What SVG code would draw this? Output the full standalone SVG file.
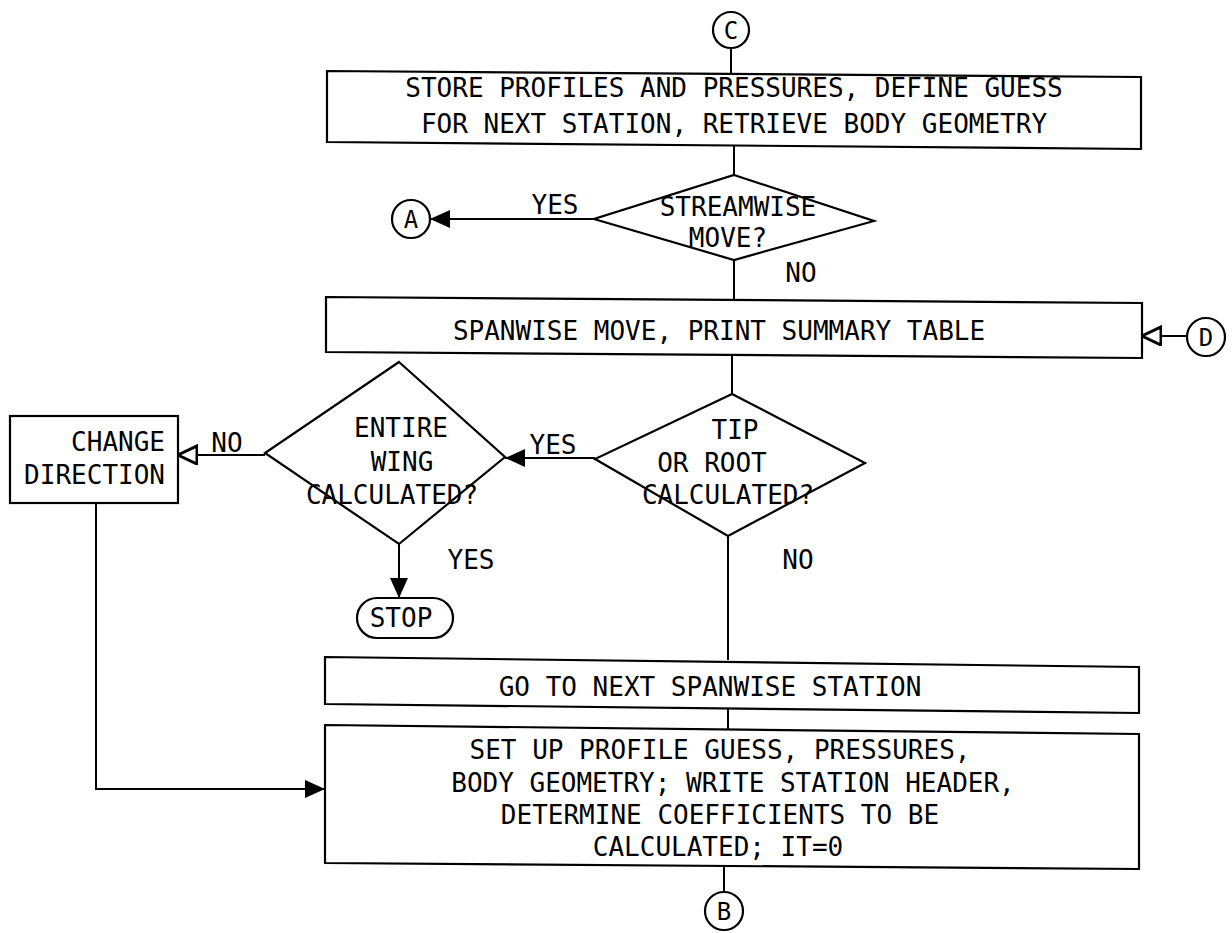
<svg xmlns="http://www.w3.org/2000/svg" width="1232" height="933" viewBox="0 0 1232 933">
<style>
.sh{fill:#fff;stroke:#000;stroke-width:2.2}
.ln{fill:none;stroke:#000;stroke-width:2}
.t{font-family:"DejaVu Sans Mono","Liberation Mono",monospace;font-size:26px;fill:#000;text-anchor:middle}
.e{text-anchor:end}
</style>
<defs>
<marker id="solid" markerUnits="userSpaceOnUse" markerWidth="22" markerHeight="20" refX="20" refY="9" orient="auto"><path d="M0,0 L20,9 L0,18 z" fill="#000"/></marker>
<marker id="hollow" markerUnits="userSpaceOnUse" markerWidth="24" markerHeight="22" refX="20" refY="10" orient="auto"><path d="M1,1 L20,10 L1,19 z" fill="#fff" stroke="#000" stroke-width="3"/></marker>
</defs>
<rect width="1232" height="933" fill="#fff"/>
<g id="connectors">
<path class="ln" d="M731,48 L731,73"/>
<path class="ln" d="M734,146 L734,175"/>
<path class="ln" d="M594,219 L430,219" marker-end="url(#solid)"/>
<path class="ln" d="M734,260 L734,300"/>
<path class="ln" d="M1187,336 L1142,336" marker-end="url(#hollow)"/>
<path class="ln" d="M732,355 L732,394"/>
<path class="ln" d="M595,458 L505,458" marker-end="url(#solid)"/>
<path class="ln" d="M265,455 L178,455" marker-end="url(#hollow)"/>
<path class="ln" d="M399,544 L399,598" marker-end="url(#solid)"/>
<path class="ln" d="M728,536 L728,660"/>
<path class="ln" d="M728,709 L728,729"/>
<path class="ln" d="M96,503 L96,789 L325,789" marker-end="url(#solid)"/>
<path class="ln" d="M724,866 L724,892"/>
<text class="t" x="555" y="214">YES</text>
<text class="t" x="801" y="282">NO</text>
<text class="t" x="553" y="454">YES</text>
<text class="t" x="227" y="452">NO</text>
<text class="t" x="471" y="569">YES</text>
<text class="t" x="798" y="569">NO</text>
</g>
<g id="connC"><circle class="sh" cx="731" cy="30" r="18"/><text class="t" x="731" y="39" style="font-size:24px">C</text></g>
<g id="store"><polygon class="sh" points="327,71 1141,77 1141,149 327,142"/>
<text class="t" x="734" y="97">STORE PROFILES AND PRESSURES, DEFINE GUESS</text>
<text class="t" x="734" y="133">FOR NEXT STATION, RETRIEVE BODY GEOMETRY</text></g>
<g id="streamwise"><polygon class="sh" points="734,175 874,221 734,260 594,219"/>
<text class="t" x="738" y="216">STREAMWISE</text>
<text class="t" x="728" y="247">MOVE?</text></g>
<g id="connA"><circle class="sh" cx="411" cy="219" r="19"/><text class="t" x="411" y="228" style="font-size:24px">A</text></g>
<g id="spanwise"><polygon class="sh" points="326,297 1142,303 1142,358 326,352"/>
<text class="t" x="719" y="340">SPANWISE MOVE, PRINT SUMMARY TABLE</text></g>
<g id="connD"><circle class="sh" cx="1206" cy="337" r="19"/><text class="t" x="1206" y="346" style="font-size:24px">D</text></g>
<g id="tip"><polygon class="sh" points="732,394 865,463 728,536 595,459"/>
<text class="t" x="735" y="439">TIP</text>
<text class="t" x="712" y="472">OR ROOT</text>
<text class="t" x="728" y="504">CALCULATED?</text></g>
<g id="entire"><polygon class="sh" points="399,362 505,457 399,544 265,453"/>
<text class="t" x="401" y="437">ENTIRE</text>
<text class="t" x="402" y="471">WING</text>
<text class="t" x="392" y="504">CALCULATED?</text></g>
<g id="change"><rect class="sh" x="10" y="416" width="168" height="87"/>
<text class="t e" x="165" y="451">CHANGE</text>
<text class="t e" x="165" y="484">DIRECTION</text></g>
<g id="stop"><rect class="sh" x="357" y="598" width="96" height="40" rx="20"/>
<text class="t" x="401" y="627">STOP</text></g>
<g id="nextstation"><polygon class="sh" points="325,657 1139,667 1139,713 325,704"/>
<text class="t" x="710" y="696">GO TO NEXT SPANWISE STATION</text></g>
<g id="setup"><polygon class="sh" points="325,725 1139,734 1139,869 325,863"/>
<text class="t" x="720" y="759">SET UP PROFILE GUESS, PRESSURES,</text>
<text class="t" x="733" y="792">BODY GEOMETRY; WRITE STATION HEADER,</text>
<text class="t" x="720" y="824">DETERMINE COEFFICIENTS TO BE</text>
<text class="t" x="718" y="856">CALCULATED; IT=0</text></g>
<g id="connB"><circle class="sh" cx="724" cy="911" r="19"/><text class="t" x="724" y="920" style="font-size:24px">B</text></g>
</svg>
